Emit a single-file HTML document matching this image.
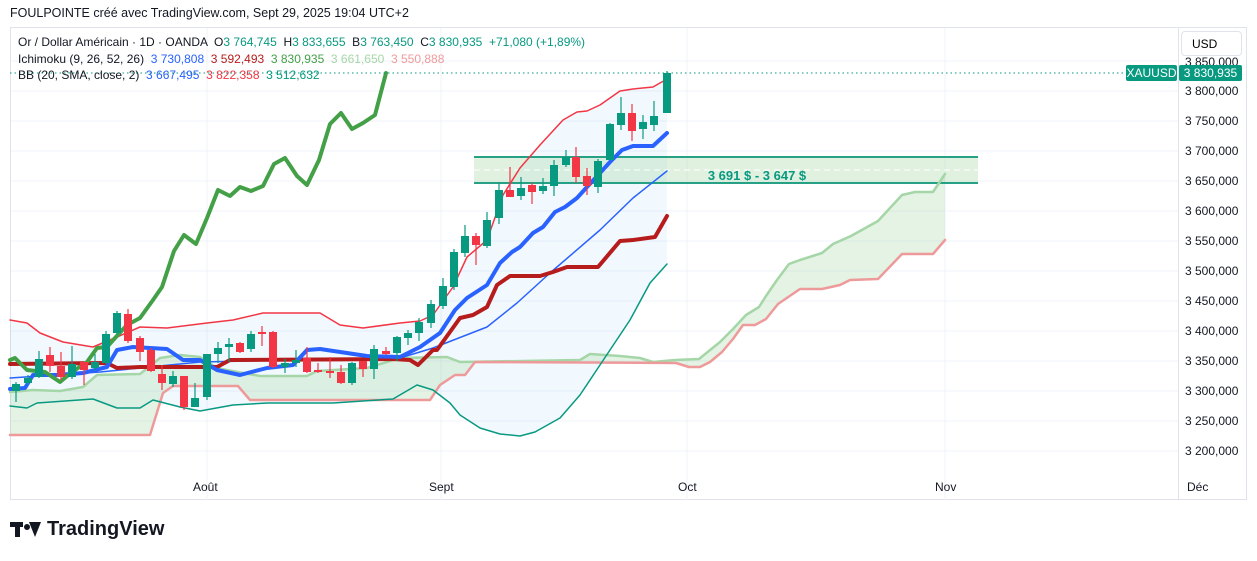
<!DOCTYPE html>
<html><head><meta charset="utf-8"><style>
body{margin:0;background:#fff;width:1257px;height:561px;overflow:hidden;font-family:"Liberation Sans",sans-serif;position:relative}
.t{position:absolute;white-space:nowrap;font-size:12px;color:#131722}
</style></head><body>
<div class="t" style="left:10px;top:6px;font-size:12.5px">FOULPOINTE créé avec TradingView.com, Sept 29, 2025 19:04 UTC+2</div>
<svg width="1257" height="561" style="position:absolute;left:0;top:0" xmlns="http://www.w3.org/2000/svg">
<rect x="10.5" y="27.5" width="1236" height="472" fill="none" stroke="#e0e3eb"/>
<line x1="1178.5" y1="28" x2="1178.5" y2="500" stroke="#e0e3eb"/>
<g stroke="#f0f3fa" stroke-width="1">
<line x1="11" y1="61" x2="1178" y2="61"/><line x1="11" y1="91" x2="1178" y2="91"/><line x1="11" y1="121" x2="1178" y2="121"/><line x1="11" y1="151" x2="1178" y2="151"/><line x1="11" y1="181" x2="1178" y2="181"/><line x1="11" y1="211" x2="1178" y2="211"/><line x1="11" y1="241" x2="1178" y2="241"/><line x1="11" y1="271" x2="1178" y2="271"/><line x1="11" y1="301" x2="1178" y2="301"/><line x1="11" y1="331" x2="1178" y2="331"/><line x1="11" y1="361" x2="1178" y2="361"/><line x1="11" y1="391" x2="1178" y2="391"/><line x1="11" y1="421" x2="1178" y2="421"/><line x1="11" y1="451" x2="1178" y2="451"/>
<line x1="207" y1="28" x2="207" y2="500"/><line x1="441" y1="28" x2="441" y2="500"/><line x1="687" y1="28" x2="687" y2="500"/><line x1="945" y1="28" x2="945" y2="500"/>
</g>
<!-- BB fill -->
<polygon fill="rgba(33,150,243,0.06)" points="10,320 27,323 40,333 63,342 93,347 117,337 140,327 167,328 207,323 233,320 263,313 320,313 340,325 363,328 400,323 420,321 433,315 453,287 467,257 487,240 503,195 520,168 540,145 563,120 577,112 587,111 600,105 620,91 633,89 653,87 667,79 667,264 650,283 630,320 600,365 580,395 560,418 535,432 520,436 500,434 480,428 460,415 450,403 433,390 417,385 393,399 333,403 267,403 233,405 200,411 180,407 153,400 140,408 117,408 93,399 37,403 27,408 10,406"/>
<!-- cloud fill -->
<polygon fill="rgba(165,214,167,0.3)" points="10,392 33,390 60,391 83,387 97,375 140,374 160,358 180,355 200,357 217,368 227,370 260,376 307,376 317,371 367,368 400,358 447,357 460,362 580,360 590,354 620,356 640,358 653,362 675,360 699,359 720,342 733,329 746,315 759,307 766,296 777,280 789,264 800,260 822,253 833,244 851,236 878,221 902,195 915,192 933,192 945,174 945,240 933,254 902,254 878,279 850,280 840,285 822,289 800,289 778,304 766,319 755,325 743,325 733,339 722,352 710,362 700,367 689,367 676,363 475,362 465,375 455,375 440,385 430,400 250,400 238,386 173,386 163,393 150,435 10,435"/>
<!-- zone -->
<rect x="474" y="157" width="504" height="27" fill="rgba(165,214,167,0.35)"/>
<line x1="474" y1="157" x2="978" y2="157" stroke="#26a185" stroke-width="2"/>
<line x1="474" y1="183" x2="978" y2="183" stroke="#26a185" stroke-width="2"/>
<line x1="474" y1="170" x2="978" y2="170" stroke="#fff" stroke-dasharray="6,4" stroke-width="1"/>
<text x="757" y="180" text-anchor="middle" font-family="Liberation Sans,sans-serif" font-weight="bold" font-size="13" fill="#089981">3 691 $ - 3 647 $</text>
<g fill="none" stroke-linejoin="round" stroke-linecap="round">
<polyline stroke="#a5d6a7" stroke-width="2.5" points="10,392 33,390 60,391 83,387 97,375 140,374 160,358 180,355 200,357 217,368 227,370 260,376 307,376 317,371 367,368 400,358 447,357 460,362 580,360 590,354 620,356 640,358 653,362 675,360 699,359 720,342 733,329 746,315 759,307 766,296 777,280 789,264 800,260 822,253 833,244 851,236 878,221 902,195 915,192 933,192 945,174"/>
<polyline stroke="#ef9a9a" stroke-width="2.5" points="10,435 150,435 163,393 173,386 238,386 250,400 430,400 440,385 455,375 465,375 475,362 676,363 689,367 700,367 710,362 722,352 733,339 743,325 755,325 766,319 778,304 800,289 822,289 840,285 850,280 878,279 902,254 933,254 945,240"/>
<polyline stroke="#f23645" stroke-width="1.5" points="10,320 27,323 40,333 63,342 93,347 117,337 140,327 167,328 207,323 233,320 263,313 320,313 340,325 363,328 400,323 420,321 433,315 453,287 467,257 487,240 503,195 520,168 540,145 563,120 577,112 587,111 600,105 620,91 633,89 653,87 667,79"/>
<polyline stroke="#089981" stroke-width="1.5" points="10,406 27,408 37,403 93,399 117,408 140,408 153,400 180,407 200,411 233,405 267,403 333,403 393,399 417,385 433,390 450,403 460,415 480,428 500,434 520,436 535,432 560,418 580,395 600,365 630,320 650,283 667,264"/>
<polyline stroke="#2962ff" stroke-width="1.5" points="10,378 100,372 200,362 300,360 400,358 433,348 487,327 517,303 550,273 600,230 633,198 667,171"/>
<polyline stroke="#b71c1c" stroke-width="4" points="10,364 107,363 117,368 140,367 217,367 230,360 393,359 410,360 418,365 433,350 437,350 460,318 473,315 487,307 497,285 510,276 540,276 553,272 567,267 598,267 620,241 633,240 655,237 667,216"/>
<polyline stroke="#2962ff" stroke-width="4" points="10,389 25,388 33,375 57,375 83,373 107,367 117,350 133,347 167,349 183,360 200,360 217,370 240,375 267,368 293,365 307,350 320,349 367,356 400,357 420,347 440,333 455,310 467,298 487,285 500,263 512,252 520,247 533,233 543,227 555,212 565,207 577,198 587,187 600,173 610,162 622,150 633,146 653,146 667,133"/>
<polyline stroke="#43a047" stroke-width="4" points="10,360 15,358 27,370 45,372 60,382 72,372 87,362 97,348 107,347 115,338 127,325 140,318 153,300 162,287 174,251 184,235 196,244 207,218 218,190 230,196 240,187 251,191 263,186 274,164 285,158 297,176 307,185 319,160 330,124 341,113 352,129 363,123 375,115 386,73"/>
</g>
<g id="c"></g>
<line x1="10" y1="73" x2="1125" y2="73" stroke="#089981" stroke-dasharray="1.5,3" stroke-width="1"/>
</svg>
<svg width="1257" height="561" style="position:absolute;left:0;top:0" xmlns="http://www.w3.org/2000/svg">
<g id="cc"></g>
</svg>
<script>
var d=[[16,1,384,391,382,402],[28,1,378,383,375,385],[39,1,359,377,351,378],[50,0,355,366,347,372],[61,0,366,377,352,380],[72,1,364,377,346,379],[84,0,362,370,362,385],[95,1,362,368,354,371],[106,1,334,363,331,364],[117,1,313,333,311,335],[128,0,314,341,309,343],[140,0,338,352,336,361],[151,0,350,371,348,372],[162,0,374,383,365,390],[173,1,376,384,371,387],[184,0,376,407,376,410],[195,1,398,407,383,407],[207,1,354,397,354,400],[218,1,348,354,342,363],[229,1,344,347,338,362],[240,0,343,352,342,353],[251,1,334,349,331,352],[262,0,332,334,326,346],[273,0,332,367,331,368],[285,1,363,367,359,373],[296,1,360,363,350,367],[307,0,358,372,347,373],[318,0,370,372,363,373],[330,0,371,373,357,378],[341,0,372,383,365,384],[352,1,363,383,362,385],[363,0,361,369,361,377],[374,1,349,369,345,379],[386,0,351,354,347,355],[397,1,337,353,336,361],[408,1,333,338,330,345],[419,1,322,333,318,341],[431,1,304,323,300,328],[443,1,286,306,278,309],[454,1,252,287,249,290],[465,1,236,253,225,257],[476,0,236,245,233,265],[487,1,220,246,212,248],[499,1,190,218,183,224],[510,0,190,197,167,197],[521,1,188,196,177,200],[532,0,185,192,183,204],[543,1,186,191,178,194],[554,1,165,186,160,196],[566,1,157,165,150,167],[576,0,157,177,147,183],[587,0,176,186,168,195],[598,1,161,187,159,193],[610,1,124,160,123,160],[621,1,113,125,97,130],[632,0,113,131,104,141],[643,1,122,129,115,139],[654,1,116,125,101,131],[667,1,73,113,71,113]];
var s='';d.forEach(function(c){var col=c[1]?'#089981':'#f23645';s+='<line x1="'+c[0]+'" x2="'+c[0]+'" y1="'+c[4]+'" y2="'+c[5]+'" stroke="'+col+'" stroke-width="1.2"/><rect x="'+(c[0]-4)+'" y="'+c[2]+'" width="8" height="'+Math.max(2,c[3]-c[2])+'" fill="'+col+'"/>';});
document.getElementById('cc').innerHTML=s;
</script>
<div class="t" style="left:18px;top:35px">Or / Dollar Américain · 1D · OANDA &nbsp;O<span style="color:#089981">3 764,745</span> &nbsp;H<span style="color:#089981">3 833,655</span> &nbsp;B<span style="color:#089981">3 763,450</span> &nbsp;C<span style="color:#089981">3 830,935</span> &nbsp;<span style="color:#089981">+71,080 (+1,89%)</span></div>
<div class="t" style="left:18px;top:52px">Ichimoku (9, 26, 52, 26) &nbsp;<span style="color:#2962ff">3 730,808</span> &nbsp;<span style="color:#b71c1c">3 592,493</span> &nbsp;<span style="color:#43a047">3 830,935</span> &nbsp;<span style="color:#a5d6a7">3 661,650</span> &nbsp;<span style="color:#ef9a9a">3 550,888</span></div>
<div class="t" style="left:18px;top:68px">BB (20, SMA, close, 2) &nbsp;<span style="color:#2962ff">3 667,495</span> &nbsp;<span style="color:#f23645">3 822,358</span> &nbsp;<span style="color:#089981">3 512,632</span></div>
<div class="t" style="left:1185px;top:55px;">3 850,000</div>
<div style="position:absolute;left:1181px;top:31px;width:61px;height:25px;background:#fff;border:1px solid #e0e3eb;border-radius:4px;font-size:12px;line-height:25px;padding-left:10px;box-sizing:border-box">USD</div>
<div class="t" style="left:1185px;top:84px">3 800,000</div>
<div class="t" style="left:1185px;top:114px">3 750,000</div>
<div class="t" style="left:1185px;top:144px">3 700,000</div>
<div class="t" style="left:1185px;top:174px">3 650,000</div>
<div class="t" style="left:1185px;top:204px">3 600,000</div>
<div class="t" style="left:1185px;top:234px">3 550,000</div>
<div class="t" style="left:1185px;top:264px">3 500,000</div>
<div class="t" style="left:1185px;top:294px">3 450,000</div>
<div class="t" style="left:1185px;top:324px">3 400,000</div>
<div class="t" style="left:1185px;top:354px">3 350,000</div>
<div class="t" style="left:1185px;top:384px">3 300,000</div>
<div class="t" style="left:1185px;top:414px">3 250,000</div>
<div class="t" style="left:1185px;top:444px">3 200,000</div>
<div class="t" style="left:1126px;top:65px;width:51px;height:16px;background:#089981;color:#fff;line-height:16px;text-align:center;border-radius:2px">XAUUSD</div>
<div class="t" style="left:1179px;top:65px;width:63px;height:16px;background:#089981;color:#fff;line-height:16px;text-align:center;border-radius:2px">3 830,935</div>
<div class="t" style="left:193px;top:480px">Août</div>
<div class="t" style="left:429px;top:480px">Sept</div>
<div class="t" style="left:678px;top:480px">Oct</div>
<div class="t" style="left:935px;top:480px">Nov</div>
<div class="t" style="left:1187px;top:480px">Déc</div>
<div style="position:absolute;left:10px;top:520px;width:32px;height:20px">
<div style="position:absolute;left:0;top:2px;width:13px;height:5px;background:#131722"></div>
<div style="position:absolute;left:5px;top:2px;width:5px;height:15px;background:#131722"></div>
<div style="position:absolute;left:14px;top:4px;width:6px;height:6px;border-radius:50%;background:#131722"></div>
<div style="position:absolute;left:19px;top:2px;width:0;height:0;border-left:6px solid transparent;border-right:6px solid transparent;border-bottom:15px solid #131722;transform:rotate(180deg)"></div>
</div>
<div class="t" style="left:47px;top:518px;font-size:20px;font-weight:bold">TradingView</div>
</body></html>
